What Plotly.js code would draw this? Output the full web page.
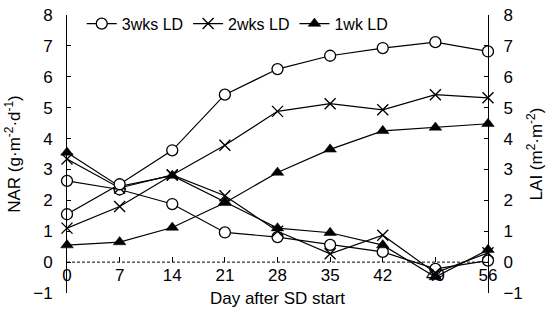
<!DOCTYPE html>
<html><head><meta charset="utf-8">
<script src="https://cdn.plot.ly/plotly-3.0.1.min.js"></script>
<style>html,body{margin:0;padding:0;background:#fff}#c{width:554px;height:324px}</style>
</head><body><div id="c"></div>
<script>
const days = [0, 7, 14, 21, 28, 35, 42, 49, 56];
const xTicks = [0, 7, 14, 21, 28, 35, 42, 49, 56];
const yTicks = [-1, 0, 1, 2, 3, 4, 5, 6, 7, 8];
const seriesNames = ["3wks LD", "2wks LD", "1wk LD"];
// LAI (right axis)
const lai3 = [1.55, 2.52, 3.62, 5.42, 6.25, 6.68, 6.93, 7.12, 6.82];
const lai2 = [1.10, 1.80, 2.82, 3.78, 4.88, 5.13, 4.93, 5.42, 5.32];
const lai1 = [0.55, 0.65, 1.12, 1.92, 2.90, 3.65, 4.25, 4.36, 4.48];
// NAR (left axis)
const nar3 = [2.63, 2.35, 1.88, 0.96, 0.81, 0.56, 0.33, -0.22, 0.05];
const nar2 = [3.34, 2.40, 2.82, 2.15, 1.00, 0.27, 0.87, -0.35, 0.30];
const nar1 = [3.55, 2.45, 2.80, 1.95, 1.10, 0.95, 0.55, -0.48, 0.40];

const FONT = "Liberation Sans, Arial, sans-serif";
function mk(i) {
  if (i === 0) return {symbol: "circle", size: 11, color: "#fff", line: {width: 1.3, color: "#000"}};
  if (i === 1) return {symbol: "x-thin-open", size: 11, color: "#000", line: {width: 1.4, color: "#000"}};
  return {symbol: "triangle-up", size: 11, color: "#000", line: {width: 0.5, color: "#000"}};
}
function tr(y, i, axis, show) {
  return {
    x: days, y: y, type: "scatter", mode: "lines+markers",
    name: seriesNames[i], legendgroup: "g" + i, showlegend: show,
    yaxis: axis, cliponaxis: false,
    line: {color: "#000", width: 1.2},
    marker: mk(i)
  };
}
const data = [
  tr(nar3, 0, "y", false), tr(nar2, 1, "y", false), tr(nar1, 2, "y", false),
  tr(lai3, 0, "y2", true), tr(lai2, 1, "y2", true), tr(lai1, 2, "y2", true)
];

const layout = {
  width: 554, height: 324,
  margin: {l: 67, r: 66, t: 15, b: 31, autoexpand: false},
  paper_bgcolor: "#fff", plot_bgcolor: "#fff",
  font: {family: FONT, size: 17, color: "#000"},
  showlegend: true,
  legend: {orientation: "h", x: 0.035, y: 1.03, xanchor: "left", yanchor: "top",
           font: {size: 16}, bgcolor: "rgba(0,0,0,0)", traceorder: "normal",
           itemwidth: 30, tracegroupgap: 0, borderwidth: 0},
  xaxis: {range: [0, 56], tickvals: xTicks, ticktext: xTicks.map(String),
          anchor: "free", position: 1/9, showline: false, showgrid: false, zeroline: false,
          ticks: "inside", ticklen: 5, tickcolor: "#000", tickwidth: 1,
          ticklabelstandoff: 1,
          tickfont: {size: 17},
          title: {text: "Day after SD start", font: {size: 17}, standoff: 7}},
  yaxis: {range: [-1, 8], tickvals: yTicks, showline: true, linecolor: "#000", linewidth: 1,
          showgrid: false, zeroline: false, ticks: "inside", ticklen: 4, tickcolor: "#000",
          ticklabelstandoff: 10,
          tickfont: {size: 17},
          title: {text: "NAR (g·m<sup>-2</sup>·d<sup>-1</sup>)", font: {size: 17}, standoff: 8}},
  yaxis2: {range: [-1, 8], tickvals: yTicks, overlaying: "y", side: "right",
           showline: true, linecolor: "#000", linewidth: 1,
           showgrid: false, zeroline: false, ticks: "inside", ticklen: 4, tickcolor: "#000",
           ticklabelstandoff: 11,
           tickfont: {size: 17},
           title: {text: "LAI (m<sup>2</sup>·m<sup>-2</sup>)", font: {size: 17}, standoff: 8}},
  shapes: [{type: "line", xref: "x", yref: "y", x0: 0, x1: 56, y0: 0, y1: 0,
            line: {color: "#000", width: 1, dash: "3px,2px"}}]
};
Plotly.newPlot("c", data, layout, {displayModeBar: false, staticPlot: true});
</script></body></html>
